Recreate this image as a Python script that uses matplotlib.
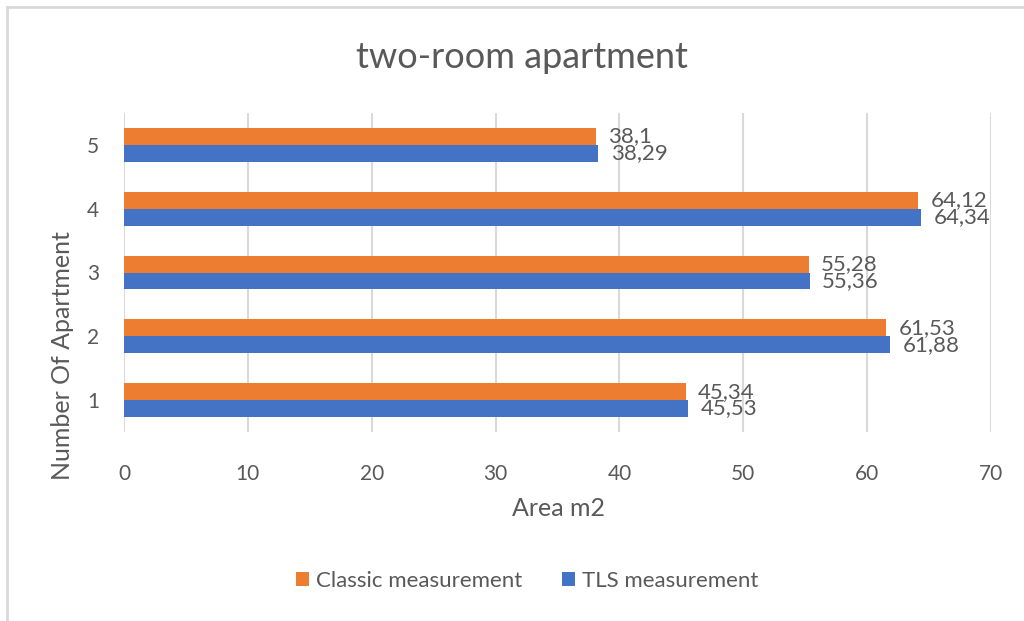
import numpy as np
import matplotlib
matplotlib.use("Agg")
import matplotlib.pyplot as plt
from matplotlib.lines import Line2D

# values
apartments = ['1', '2', '3', '4', '5']
classic = [45.34, 61.53, 55.28, 64.12, 38.1]
tls = [45.53, 61.88, 55.36, 64.34, 38.29]
xticks = [0, 10, 20, 30, 40, 50, 60, 70]

ORANGE = '#ED7D31'
BLUE = '#4472C4'
GREY = '#595959'
GRID = '#D9D9D9'

plt.rcParams['font.family'] = ['Lato', 'DejaVu Sans']

fig = plt.figure(figsize=(10.24, 6.21), dpi=100)
ax = fig.add_axes([124/1024, 1-432/621, (991-124)/1024, (432-113)/621])

y = np.arange(len(apartments))
h = 0.265
ax.barh(y + h/2, classic, height=h, color=ORANGE, label='Classic measurement', zorder=3)
ax.barh(y - h/2, tls, height=h, color=BLUE, label='TLS measurement', zorder=3)

def fmt(v):
    return ('%g' % v).replace('.', ',')

for yi, c, t in zip(y, classic, tls):
    ax.text(c + 1.0, yi + h/2, fmt(c), va='center', ha='left', fontsize=16, color=GREY)
    ax.text(t + 1.0, yi - h/2, fmt(t), va='center', ha='left', fontsize=16, color=GREY)

ax.set_xlim(0, 70)
ax.set_ylim(-0.5, len(apartments) - 0.5)
ax.set_xticks(xticks)
ax.set_yticks(y)
ax.set_yticklabels(apartments)
ax.tick_params(axis='both', length=0, labelsize=15, labelcolor=GREY)
ax.tick_params(axis='x', pad=23)
ax.tick_params(axis='y', pad=18)
ax.grid(axis='x', color=GRID, linewidth=1.5, zorder=0)
for s in ax.spines.values():
    s.set_visible(False)

fig.text(0.51, 1-57/621, 'two-room apartment', ha='center', va='center', fontsize=26, color=GREY)
fig.text(559/1024, 1-508/621, 'Area m2', ha='center', va='center', fontsize=18, color=GREY)
fig.text(62/1024, 1-356/621, 'Number Of Apartment', ha='center', va='center', rotation=90,
         fontsize=18, color=GREY)

handles, labels = ax.get_legend_handles_labels()
fig.legend(handles, labels, loc='center', bbox_to_anchor=(527/1024, 1-581/621), ncol=2,
           frameon=False, fontsize=16, labelcolor=GREY, handlelength=0.6, handleheight=0.6,
           handletextpad=0.3, columnspacing=1.8)

# chart frame (top and left edges visible)
fig.add_artist(Line2D([7/1024, 1], [1-7/621, 1-7/621], color='#D9D9D9', linewidth=2))
fig.add_artist(Line2D([7/1024, 7/1024], [0, 1-7/621], color='#D9D9D9', linewidth=2))

fig.savefig('out.png', dpi=100)
